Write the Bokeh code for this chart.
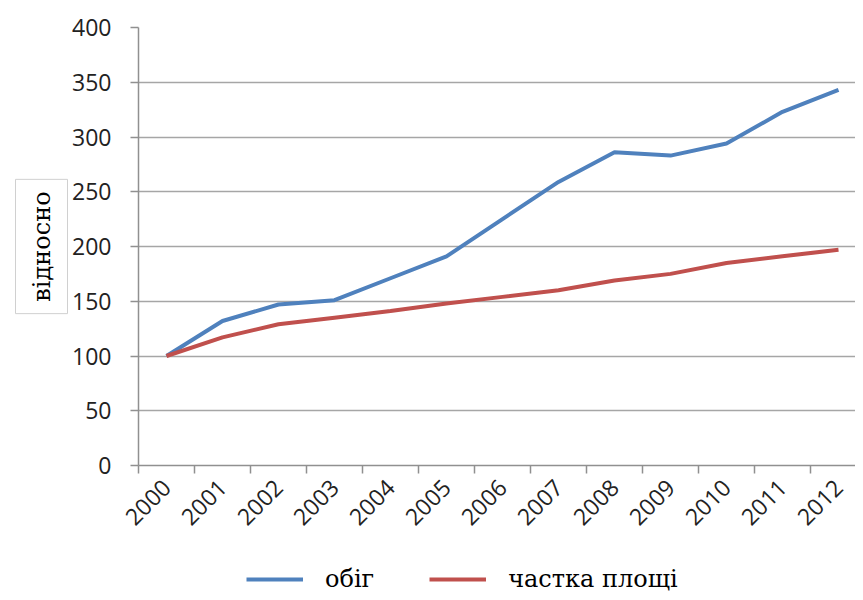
import math
from bokeh.plotting import figure
from bokeh.layouts import column
from bokeh.models import FixedTicker, Range1d, Title, Legend, LegendItem
from bokeh.embed import file_html
from bokeh.resources import INLINE

years = [2000, 2001, 2002, 2003, 2004, 2005, 2006, 2007, 2008, 2009, 2010, 2011, 2012]
obig = [100, 132, 147, 151, 171, 191, 225, 259, 286, 283, 294, 323, 343]
chastka = [100, 117, 129, 135, 141, 148, 154, 160, 169, 175, 185, 191, 197]
y_ticks = [0, 50, 100, 150, 200, 250, 300, 350, 400]
series_names = ["обіг", "частка площі"]
series_colors = ["#4F81BD", "#C0504D"]

xs = [y - years[0] for y in years]

p = figure(width=855, height=556, output_backend="svg", toolbar_location=None,
           x_range=Range1d(-0.5, -0.5 + 717 / 56), y_range=Range1d(0, 400),
           min_border_left=138, min_border_top=27, min_border_bottom=91,
           min_border_right=0)
p.outline_line_color = None
p.background_fill_color = "white"

p.line(xs, obig, line_color=series_colors[0], line_width=4)
p.line(xs, chastka, line_color=series_colors[1], line_width=4)

xa = p.xaxis[0]
xa.ticker = FixedTicker(ticks=xs, minor_ticks=[x - 0.5 for x in xs] + [xs[-1] + 0.5])
xa.major_label_overrides = {x: str(y) for x, y in zip(xs, years)}
xa.major_tick_out = 0
xa.major_tick_in = 0
xa.minor_tick_out = 8
xa.minor_tick_in = 0
xa.minor_tick_line_color = "#909090"
xa.minor_tick_line_width = 1.5
xa.axis_line_color = "#909090"
xa.axis_line_width = 1.5
xa.major_label_orientation = math.pi / 4
xa.major_label_text_font = "Open Sans"
xa.major_label_text_font_size = "23px"
xa.major_label_text_color = "#222222"
xa.major_label_standoff = 10

ya = p.yaxis[0]
ya.ticker = FixedTicker(ticks=y_ticks)
ya.major_tick_out = 8
ya.major_tick_in = 0
ya.minor_tick_out = 0
ya.minor_tick_in = 0
ya.major_tick_line_color = "#909090"
ya.major_tick_line_width = 1.5
ya.axis_line_color = "#909090"
ya.axis_line_width = 1.5
ya.major_label_text_font = "Open Sans"
ya.major_label_text_font_size = "23px"
ya.major_label_text_color = "#222222"
ya.major_label_standoff = 19

p.xgrid.visible = False
p.ygrid[0].ticker = FixedTicker(ticks=y_ticks)
p.ygrid.grid_line_color = "#A6A6A6"
p.ygrid.grid_line_width = 1.5

title = Title(text="відносно", align="center", text_font="DejaVu Serif",
              text_font_size="24px", text_font_style="normal", text_color="black",
              background_fill_color="white", border_line_color="#D0D0D0",
              border_line_width=1, padding=(12, 12), standoff=4)
p.add_layout(title, "left")

# legend strip below the chart
q = figure(width=855, height=36, output_backend="svg", toolbar_location=None,
           x_axis_location=None, y_axis_location=None,
           x_range=Range1d(1000, 1001), y_range=Range1d(1000, 1001),
           min_border=0)
q.outline_line_color = None
q.grid.visible = False
r1 = q.line(xs, obig, line_color=series_colors[0], line_width=4)
r2 = q.line(xs, chastka, line_color=series_colors[1], line_width=4)

legend = Legend(items=[LegendItem(label=series_names[0], renderers=[r1]),
                       LegendItem(label=series_names[1], renderers=[r2])],
                orientation="horizontal", location=(108, -1),
                label_text_font="DejaVu Serif", label_text_font_size="24px",
                label_text_color="black",
                glyph_width=57, glyph_height=20, label_standoff=22, spacing=55,
                padding=0, margin=0,
                border_line_color=None, background_fill_alpha=0)
q.add_layout(legend)

open("out.html", "w").write(file_html(column(p, q, spacing=0), INLINE))
